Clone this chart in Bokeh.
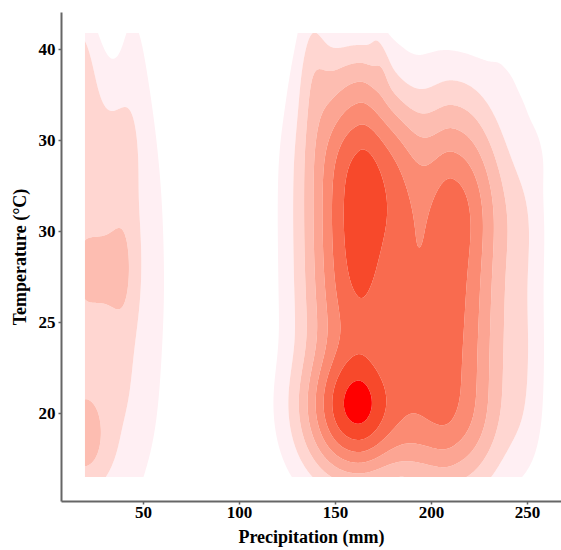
import numpy as np
from bokeh.plotting import figure
from bokeh.models import Range1d, FixedTicker
from bokeh.embed import file_html
from bokeh.resources import INLINE

# ---------------- axis ticks (as printed in the original) ----------------
x_ticks = [50, 100, 150, 200, 250]
y_ticks = [20, 25, 30, 35, 40]
y_tick_labels = ["20", "25", "30", "30", "40"]

# ---------------- density bands ----------------
levels = [1, 2, 3, 4, 5, 6, 7, 8, 50]
band_colors = ["#FFEFF3", "#FFD6D1", "#FDBDB1", "#FCA593",
               "#FB8B73", "#F96B4F", "#F7492B", "#FF0000"]

# observed extent of the data (density is only shown inside it)
precip_min, precip_max = 19.5, 262.0
temp_min, temp_max = 16.5, 40.9

# temperature knots of the kernel columns
knots = [13.5, 15, 16.5, 18, 19.5, 21, 22.5, 24, 25.5, 27, 28.5, 30,
         31.5, 33, 34.5, 36, 37.5, 39, 40.5, 42, 43.5]

# main cluster: left lobe, lower and upper part
w_left_low = [0, .3, 1.17, 2.52, 3.29, 3.69, 2.55, 2.15, 2.45,
              0, 0, 0, 0, 0, 0, 0, 0, 0, 0, 0, 0]
w_left_up = [0, 0, 0, 0, 0, 0, 0, 0, 0,
             2.7, 2.72, 2.83, 2.78, 2.8, 2.7, 2.1, 1.65, 1.45, .45, .05, 0]
# middle fill between the lobes
w_mid_low = [0, .11, .34, .55, .62, .60, .68, .78, .80, .60, .30, .06,
             0, 0, 0, 0, 0, 0, 0, 0, 0]
w_mid_up = [0, 0, 0, 0, 0, 0, 0, 0, .08, .25, .67, 1.0, 1.18, 1.08, 1.0,
            .70, .25, .05, 0, 0, 0]
w_gap = [0, 0, 0, 0, 0, 0, 0, .08, .2, .22, .15, .05,
         0, 0, 0, 0, 0, 0, 0, 0, 0]
# right lobe and its tail
w_right = [.22, .6, 1.12, 1.76, 2.3, 2.2, 2.22, 2.25, 2.3, 2.35, 2.38,
           2.55, 2.55, 2.3, 1.8, 1.38, .92, .55, .15, 0, 0]
w_tail = [0, 0, .11, .22, .3, .34, .37, .37, .34, .3, .34, .37, .34, .2,
          .08, 0, 0, 0, 0, 0, 0]
# thin strip on the left side of the cluster reaching the top
w_strip = [0, 0, 0, 0, 0, 0, 0, 0, 0, 0, 0, 0, 0, 0,
           .07, .19, .34, .45, .52, .52, .37]

# low-precipitation column: kernel lattice (one row per knot)
col_x = [13, 20, 27, 34, 41]
col_rows = [
    [.3, .3, .3, .3, .3],
    [.7, .7, .6, .6, .6],
    [1.4, 1.5, 1.3, .9, .8],
    [2.4, 2.5, 2.1, 1.1, .8],
    [2.4, 2.5, 2.1, 1.1, .8],
    [1.3, 1.3, 1.3, 1.2, 1.1],
    [1.5, 1.3, 1.3, 1.2, 1.1],
    [1.3, 1.3, 1.3, 1.2, 1.2],
    [1.6, 1.6, 1.6, 1.6, 1.6],
    [1.9, 1.9, 1.9, 1.9, 2.1],
    [1.9, 1.9, 1.9, 1.9, 2.1],
    [1.7, 1.7, 1.7, 1.7, 1.8],
    [1.3, 1.3, 1.3, 1.2, 1.1],
    [1.3, 1.3, 1.3, 1.3, 1.3],
    [1.3, 1.3, 1.3, 1.3, 1.3],
    [1.3, 1.3, 1.3, 1.2, 1.1],
    [1.5, 1.5, 1.2, .8, .5],
    [1.8, 1.7, .9, .2, .1],
    [1.6, 1.4, .4, 0, 0],
    [1.0, .7, 0, 0, 0],
    [.5, .3, 0, 0, 0],
]
# faint ridge next to it (centre and height per knot)
ridge_x = [47, 48, 49, 50, 51, 51.5, 52, 52.5, 53, 53, 53, 52.5, 52, 51,
           50, 49, 47.5, 46, 45, 44, 43]
ridge_v = [.3, .6, .9, 1.1, 1.3, 1.4, 1.5, 1.5, 1.6, 1.6, 1.6, 1.6, 1.6,
           1.6, 1.5, 1.4, 1.3, 1.2, 1.1, 1.0, .7]

# small features near the top edge
top_strip_x = [170, 172.5, 175]
top_strip_y = [41.5, 40.2, 39.0]
top_blob_x, top_blob_y = [194], [41.8]
right_band_x = [230, 236, 242, 248, 254, 258]
right_band_y = [41.5, 40, 38.5, 37, 35.5, 34]

# ---------------- kernel list ----------------
K = []  # (x, y, weight, sigma_left, sigma_right, sigma_y)
KSUM = 2.67


def add_column(xc, sl, sr, weights, sy=1.6):
    for yk, w in zip(knots, weights):
        if w > 0:
            K.append((xc, yk, w, sl, sr, sy))


add_column(161, 21, 18, w_left_low)
add_column(162, 21, 14, w_left_up)
add_column(190, 11, 11, w_mid_low)
add_column(184, 10, 10, w_mid_up)
add_column(185, 8, 8, w_gap)
add_column(211, 15, 21, w_right)
add_column(250, 8, 8, w_tail)
add_column(138, 6, 6, w_strip)
for yk, row in zip(knots, col_rows):
    for xc, r in zip(col_x, row):
        if r > 0:
            K.append((xc, yk, r / KSUM, 5, 5, 1.6))
for yk, xc, v in zip(knots, ridge_x, ridge_v):
    K.append((xc, yk, v / KSUM, 8, 8, 1.6))
for xc, yc in zip(top_strip_x, top_strip_y):
    K.append((xc, yc, .35, 2.5, 2.5, 1.0))
for xc, yc in zip(top_blob_x, top_blob_y):
    K.append((xc, yc, .55, 9, 9, 1.2))
for xc, yc in zip(right_band_x, right_band_y):
    K.append((xc, yc, .28, 4, 4, 1.2))


def density(xs, ys):
    xs = np.asarray(xs, float)
    ys = np.asarray(ys, float)
    Z = np.zeros((len(ys), len(xs)))
    for x0, y0, w, sl, sr, sy in K:
        s = np.where(xs < x0, sl, sr)
        gx = np.exp(-0.5 * ((xs - x0) / s) ** 2)
        gy = np.exp(-0.5 * ((ys - y0) / sy) ** 2)
        Z += w * np.outer(gy, gx)
    return Z


xs = np.linspace(precip_min, precip_max, 487)
ys = np.linspace(temp_min, temp_max, 245)
Z = density(xs, ys)

# ---------------- figure ----------------
p = figure(width=561, height=550, output_backend="svg", toolbar_location=None,
           x_range=Range1d(7.29, 267.7), y_range=Range1d(15.16, 42.03),
           min_border_left=61, min_border_right=0, min_border_top=12,
           min_border_bottom=49)
p.outline_line_color = None
p.xgrid.visible = False
p.ygrid.visible = False
p.background_fill_color = "white"

p.contour(xs, ys, Z, levels, fill_color=band_colors)

font = "Liberation Serif"
for ax in (p.xaxis[0], p.yaxis[0]):
    ax.axis_line_color = "#666666"
    ax.axis_line_width = 2
    ax.major_tick_line_color = "#666666"
    ax.major_tick_line_width = 1.5
    ax.major_tick_out = 3
    ax.major_tick_in = 0
    ax.minor_tick_line_color = None
    ax.major_label_text_font = font
    ax.major_label_text_font_style = "bold"
    ax.major_label_text_font_size = "17px"
    ax.major_label_text_color = "black"
    ax.axis_label_text_font = font
    ax.axis_label_text_font_style = "bold"
    ax.axis_label_text_font_size = "18px"
    ax.axis_label_text_color = "black"

p.xaxis.ticker = FixedTicker(ticks=x_ticks)
p.yaxis.ticker = FixedTicker(ticks=y_ticks)
p.yaxis.major_label_overrides = {t: lab for t, lab in zip(y_ticks, y_tick_labels)}
p.xaxis.axis_label = "Precipitation (mm)"
p.yaxis.axis_label = "Temperature (°C)"
p.xaxis.major_label_standoff = 2
p.xaxis.axis_label_standoff = 6
p.yaxis.major_label_standoff = 3
p.yaxis.axis_label_standoff = 6

open("out.html", "w").write(file_html(p, INLINE))
